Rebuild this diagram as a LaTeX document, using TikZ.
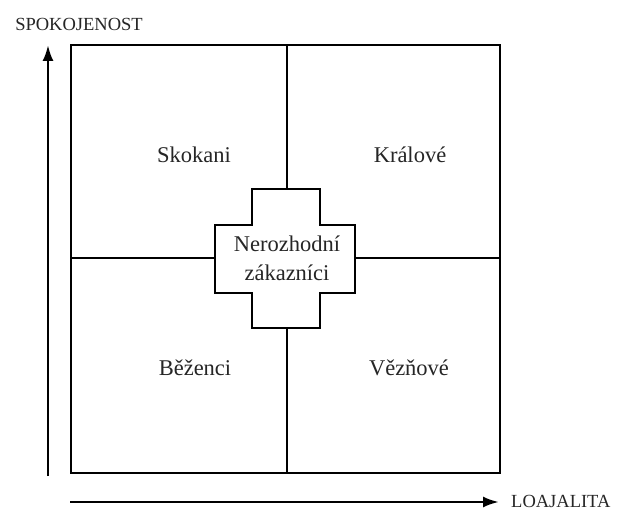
\documentclass[tikz,border=0pt]{standalone}
\usepackage{fontspec}
\setmainfont{Liberation Serif}
\newfontfamily\tnr{Liberation Serif}
\usetikzlibrary{arrows.meta}
\begin{document}
\begin{tikzpicture}[x=1pt,y=-1pt,
  frame/.style={line width=2.6pt,draw=black},
  axis/.style={line width=2.6pt,draw=black,-{Latex[length=16pt,width=11pt]}},
  qlabel/.style={font=\tnr\fontsize{22.5}{27}\selectfont,text=black!85,inner sep=0pt},
  alabel/.style={font=\tnr\fontsize{18.5}{22}\selectfont,text=black!85,inner sep=0pt}]
\useasboundingbox (0,0) rectangle (625,511);
\fill[white] (0,0) rectangle (625,511);
% square
\coordinate (tl) at (71,45);
\coordinate (br) at (500,473);
\coordinate (tm) at (287,45);
\coordinate (bm) at (287,473);
\coordinate (lm) at (71,258);
\coordinate (rm) at (500,258);
\draw[frame] (tl) rectangle (br);
\draw[frame] (tm) -- (bm);
\draw[frame] (lm) -- (rm);
% central cross
\draw[frame,fill=white,line join=miter] (252,189) -- (320,189) -- (320,225) -- (355,225) -- (355,293) -- (320,293) -- (320,328) -- (252,328) -- (252,293) -- (215,293) -- (215,225) -- (252,225) -- cycle;
\node[qlabel,align=center,font=\tnr\fontsize{22.5}{29}\selectfont] (center) at (287,258) {Nerozhodní\\zákazníci};
% quadrant labels
\node[qlabel] (skokani) at (194,155) {Skokani};
\node[qlabel] (kralove) at (410,155) {Králové};
\node[qlabel] (bezenci) at (195,368) {Běženci};
\node[qlabel] (veznove) at (409,368) {Vězňové};
% axes
\coordinate (ya) at (48,476);
\coordinate (yb) at (48,45);
\coordinate (xa) at (70,502);
\coordinate (xb) at (499,502);
\draw[axis] (ya) -- (yb);
\draw[axis] (xa) -- (xb);
\node[alabel] (spok) at (79,24) {SPOKOJENOST};
\node[alabel,anchor=west] (loaj) at (511,501) {LOAJALITA};
\end{tikzpicture}
\end{document}
